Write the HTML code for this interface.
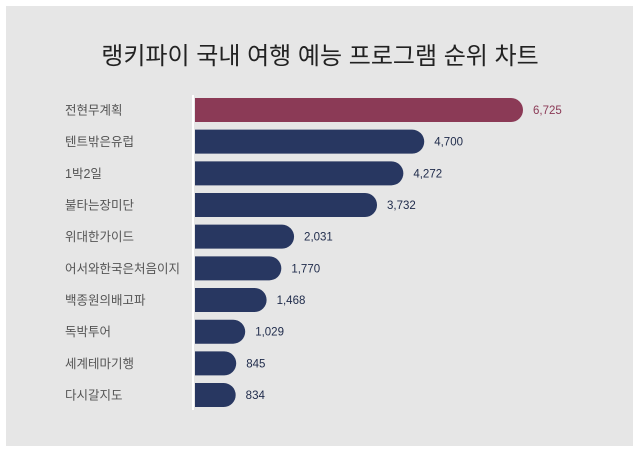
<!DOCTYPE html>
<html><head><meta charset="utf-8">
<style>
html,body{margin:0;padding:0;background:#fff;}
body{width:640px;height:453px;position:relative;overflow:hidden;font-family:"Liberation Sans","Noto Sans CJK KR",sans-serif;}
#panel{position:absolute;left:6px;top:6px;width:627px;height:440px;background:#e6e6e6;}
#title{position:absolute;left:0;top:36px;width:640px;text-align:center;font-size:24px;color:#222;}
</style></head>
<body>
<div id="panel"></div>
<div id="title">랭키파이 국내 여행 예능 프로그램 순위 차트</div>
<svg id="chart" width="640" height="453" style="position:absolute;left:0;top:0"></svg>
<script>
const categories=["전현무계획","텐트밖은유럽","1박2일","불타는장미단","위대한가이드","어서와한국은처음이지","백종원의배고파","독박투어","세계테마기행","다시갈지도"];
const values=[6725,4700,4272,3732,2031,1770,1468,1029,845,834];
const valueLabels=["6,725","4,700","4,272","3,732","2,031","1,770","1,468","1,029","845","834"];
const svg=document.getElementById('chart');
const NS='http://www.w3.org/2000/svg';
const x0=195,xMax=6725,wMax=328;
const x=v=>v/xMax*wMax;
const y=i=>110+i*31.67;
const bh=24;
const ax=document.createElementNS(NS,'line');
ax.setAttribute('x1',193);ax.setAttribute('x2',193);ax.setAttribute('y1',95);ax.setAttribute('y2',410);
ax.setAttribute('stroke','#fff');ax.setAttribute('stroke-width','2');


svg.appendChild(ax);
categories.forEach((c,i)=>{
  const w=x(values[i]),cy=y(i),r=Math.min(12,w);
  const col=i===0?'#8b3a56':'#283761';
  const p=document.createElementNS(NS,'path');
  const t=cy-bh/2,b=cy+bh/2,e=x0+w;
  p.setAttribute('d',`M${x0},${t}H${e-r}A${r},${bh/2} 0 0 1 ${e-r},${b}H${x0}Z`);
  p.setAttribute('fill',col);
  
  
  svg.appendChild(p);
  const l=document.createElementNS(NS,'text');
  l.setAttribute('x',65);l.setAttribute('y',cy+4.5);l.setAttribute('font-size','12.5');l.setAttribute('fill','#555');
  l.textContent=c;
  
  
  svg.appendChild(l);
  const v=document.createElementNS(NS,'text');
  v.setAttribute('x',e+10);v.setAttribute('y',cy+4);v.setAttribute('font-size','11.5');v.setAttribute('fill',i===0?'#8b3a56':'#1e2a4a');
  v.textContent=valueLabels[i];
  
  
  svg.appendChild(v);
});
</script>
</body></html>
